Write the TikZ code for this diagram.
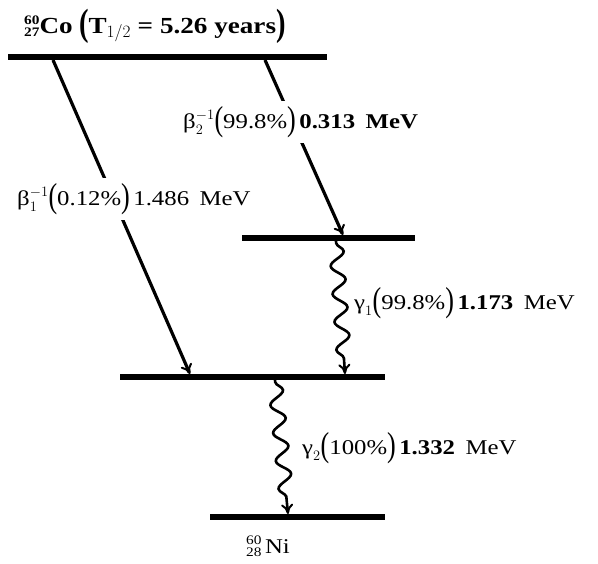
\documentclass[tikz,border=0pt]{standalone}
\usepackage{fontspec}
\setmainfont[FakeStretch=1.18]{Liberation Serif}
\usetikzlibrary{arrows.meta,decorations.pathmorphing}
\tikzset{
  level/.style={line width=6pt},
  beta/.style={line width=3.2pt,-{To[length=10pt,width=12pt,line width=2pt]}},
  gam/.style={line width=2.6pt,-{To[length=10pt,width=12pt,line width=2pt]},
    decorate,decoration={snake,segment length=28pt,amplitude=7pt,pre length=2pt,post length=10pt}},
  lab/.style={font=\fontsize{21}{24}\selectfont,inner sep=2pt},
  cut/.style={lab,fill=white,inner sep=5pt}
}
\newcommand{\bigpar}[1]{\raisebox{-1.5pt}{\scalebox{1.05}[1.65]{#1}}}
\newcommand{\prs}[1]{\bigpar{(}#1\bigpar{)}}
\newcommand{\iso}[2]{\raisebox{-3pt}{\fontsize{13}{14.5}\selectfont\shortstack[r]{#1\\#2}}}
\begin{document}
\begin{tikzpicture}[x=1pt,y=-1pt]
\useasboundingbox (0,0) rectangle (598,564);
% levels
\coordinate (L0a) at (8,57);   \coordinate (L0b) at (327,57);
\coordinate (L1a) at (242,238); \coordinate (L1b) at (415,238);
\coordinate (L2a) at (120,377); \coordinate (L2b) at (385,377);
\coordinate (L3a) at (210,517); \coordinate (L3b) at (385,517);
\draw[level] (L0a) -- (L0b);
\draw[level] (L1a) -- (L1b);
\draw[level] (L2a) -- (L2b);
\draw[level] (L3a) -- (L3b);
% transition end points
\coordinate (b1s) at (53,60);   \coordinate (b1e) at (190,374);
\coordinate (b2s) at (265,60);  \coordinate (b2e) at (343,235);
\coordinate (g1s) at (336,241); \coordinate (g1e) at (345,374);
\coordinate (g2s) at (275,380); \coordinate (g2e) at (288,514);
\draw[beta] (b1s) -- (b1e);
\draw[beta] (b2s) -- (b2e);
\draw[gam] (g1s) -- (g1e);
\draw[gam] (g2s) -- (g2e);
% labels
\node[lab,anchor=west,font=\fontsize{23}{26}\selectfont\bfseries] (co) at (22,26) {\iso{60}{27}Co\;\prs{T$_{1/2}$ = 5.26 years}};
\node[cut,anchor=west] (lb2) at (178,122) {$\mbox{β}_2^{-1}$\prs{99.8\%}\,\textbf{0.313\enspace MeV}};
\node[cut,anchor=west] (lb1) at (12,199) {$\mbox{β}_1^{-1}$\prs{0.12\%}\,1.486\enspace MeV};
\node[lab,anchor=west] (lg1) at (352,303) {$\mbox{γ}_1$\prs{99.8\%}\,\textbf{1.173}\enspace MeV};
\node[lab,anchor=west] (lg2) at (300,448) {$\mbox{γ}_2$\prs{100\%}\,\textbf{1.332}\enspace MeV};
\node[lab] (ni) at (268,546) {\iso{60}{28}\,Ni};
\end{tikzpicture}
\end{document}
